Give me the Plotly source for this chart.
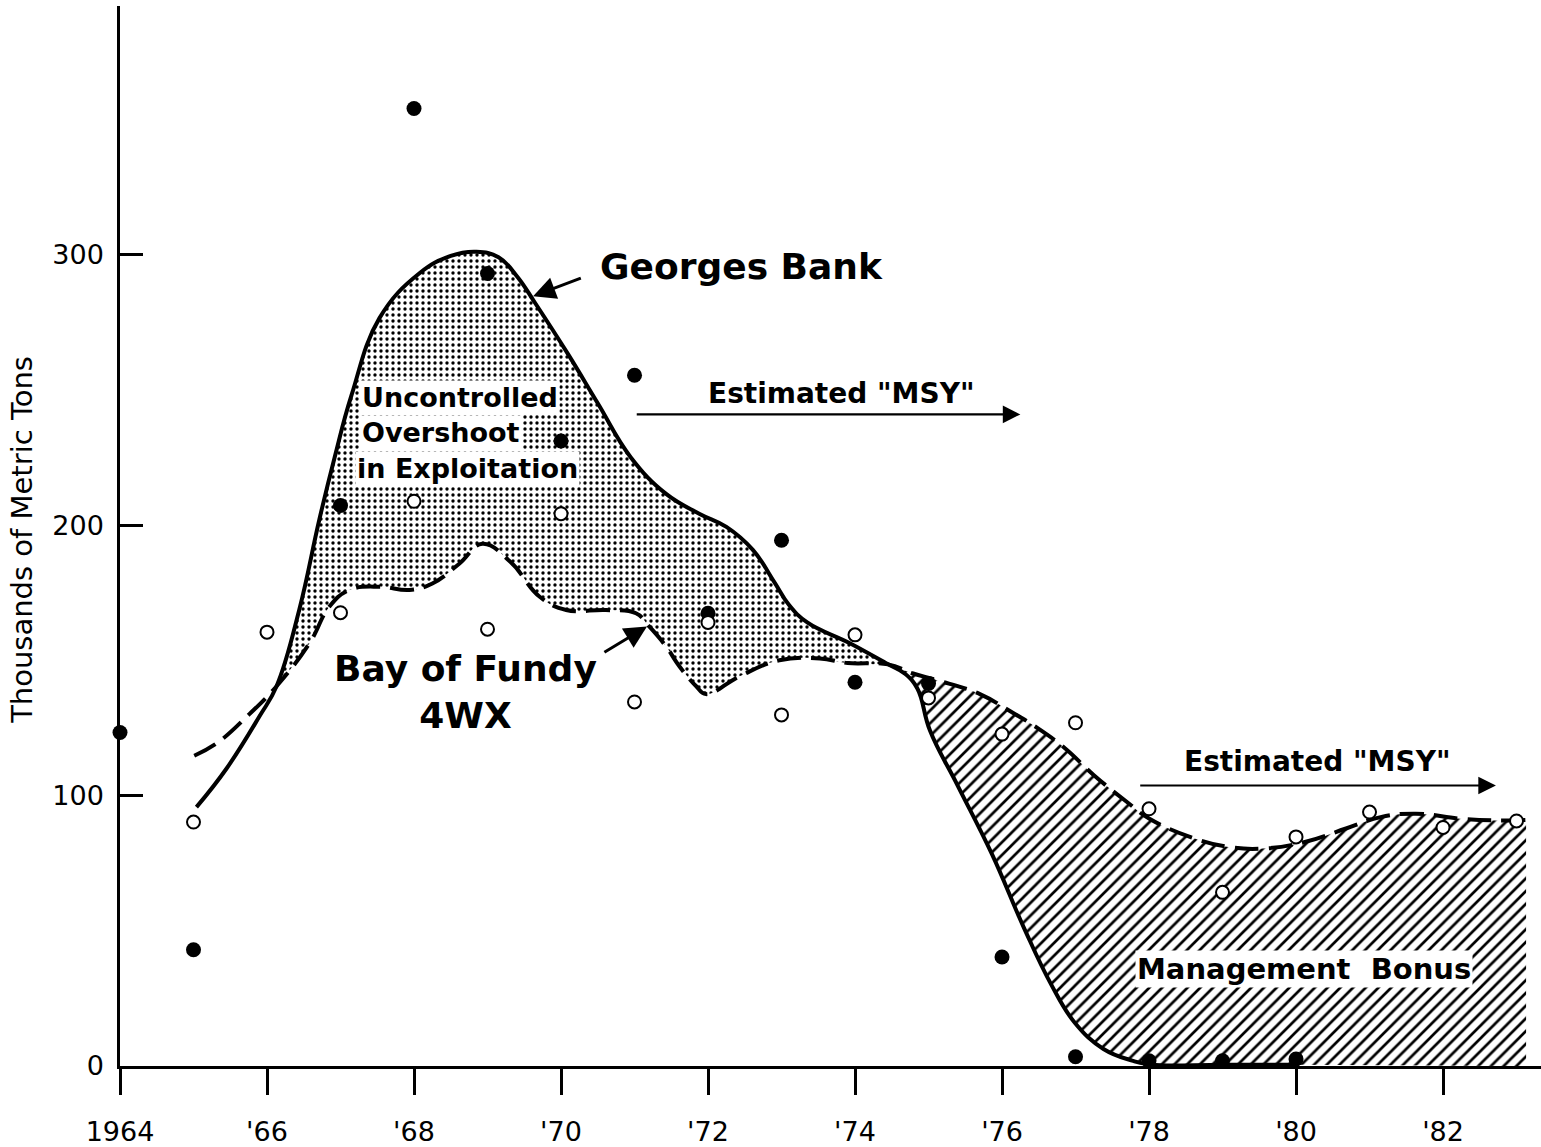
import plotly.graph_objects as go

# ---- Annual catches (thousand metric tons) ----
gb_years = [1964, 1965, 1966, 1967, 1968, 1969, 1970, 1971, 1972,
            1973, 1974, 1975, 1976, 1977, 1978, 1979, 1980]
gb_catch = [123.3, 43.0, None, 207.2, 354.0, 293.0, 231.1, 255.4, 167.4,
            194.4, 141.9, 141.4, 40.3, 3.4, 1.9, 1.9, 2.6]

bf_years = [1965, 1966, 1967, 1968, 1969, 1970, 1971, 1972, 1973, 1974,
            1975, 1976, 1977, 1978, 1979, 1980, 1981, 1982, 1983]
bf_catch = [90.2, 160.4, 167.6, 208.8, 161.5, 204.2, 134.6, 164.0, 129.8, 159.4,
            136.1, 122.7, 126.9, 95.1, 64.2, 84.7, 93.9, 88.2, 90.6]

# ---- Smoothed trends ----
gb_trend_x = [1965.04, 1965.45, 1965.90, 1966.13, 1966.44, 1966.71, 1966.92, 1967.15,
              1967.53, 1968.07, 1968.50, 1968.85, 1969.15, 1969.40, 1969.65, 1970.10,
              1970.50, 1970.95, 1971.43, 1971.88, 1972.25, 1972.61, 1972.90, 1973.10,
              1973.35, 1973.93, 1974.45, 1974.68, 1974.85, 1975.02, 1975.40, 1975.86,
              1976.30, 1976.67, 1976.99, 1977.38, 1977.77, 1978.03, 1979.00, 1980.00]
gb_trend_y = [95.7, 110.0, 129.4, 140.4, 168.8, 201.8, 225.0, 248.0,
              276.5, 293.0, 299.5, 301.0, 299.0, 292.0, 282.0, 263.0,
              245.0, 225.0, 211.5, 204.2, 199.3, 190.8, 179.0, 170.5,
              164.0, 156.3, 148.5, 145.0, 139.5, 124.0, 103.5, 78.5,
              51.0, 30.1, 16.0, 6.3, 2.0, 0.5, 0.5, 0.5]

bf_trend_x = [1965.01, 1965.33, 1965.76, 1966.13, 1966.58, 1966.85, 1967.12, 1967.53,
              1967.94, 1968.25, 1968.62, 1968.93, 1969.31, 1969.71, 1970.07, 1970.61,
              1971.02, 1971.20, 1971.43, 1971.61, 1971.84, 1971.97, 1972.43, 1972.97,
              1973.52, 1973.90, 1974.45, 1974.78, 1975.12, 1975.70, 1976.09, 1976.48,
              1976.86, 1977.25, 1977.70, 1978.00, 1978.61, 1979.08, 1979.55, 1980.12,
              1980.68, 1981.15, 1981.63, 1982.24, 1982.71, 1983.13]
bf_trend_y = [114.7, 119.6, 130.1, 140.4, 156.4, 169.9, 176.0, 177.2,
              176.0, 178.4, 185.8, 193.1, 186.4, 173.5, 168.6, 168.6,
              167.4, 162.5, 155.1, 147.8, 140.4, 137.5, 144.1, 150.0,
              150.7, 149.0, 148.5, 145.2, 142.6, 137.5, 131.5, 125.0,
              117.4, 107.5, 97.6, 91.5, 84.2, 81.0, 80.4, 82.8,
              87.8, 92.0, 93.3, 91.4, 90.8, 91.0]

# Where the two trends cross
overshoot_start = 1966.13
overshoot_end = 1974.45

# ---- Axis ticks ----
tick_years = [1964, 1966, 1968, 1970, 1972, 1974, 1976, 1978, 1980, 1982]
tick_labels = ["1964", "'66", "'68", "'70", "'72", "'74", "'76", "'78", "'80", "'82"]
y_ticks = [0, 100, 200, 300]

SMOOTH = 1.2


def span(xs, ys, lo, hi):
    pts = [(x, y) for x, y in zip(xs, ys) if lo - 1e-9 <= x <= hi + 1e-9]
    return [p[0] for p in pts], [p[1] for p in pts]


def edge():
    return dict(width=0, shape="spline", smoothing=SMOOTH)


FONT = "DejaVu Sans"
fig = go.Figure()

# Overshoot area (stippled): between Bay of Fundy trend (below) and Georges Bank trend (above)
lo_x, lo_y = span(bf_trend_x, bf_trend_y, overshoot_start, overshoot_end)
hi_x, hi_y = span(gb_trend_x, gb_trend_y, overshoot_start, overshoot_end)
fig.add_trace(go.Scatter(x=lo_x, y=lo_y, mode="lines", line=edge(), hoverinfo="skip"))
fig.add_trace(go.Scatter(x=hi_x, y=hi_y, mode="lines", line=edge(),
                         fill="tonexty", fillcolor="white",
                         fillpattern=dict(shape=".", size=6, solidity=0.25,
                                          fgcolor="black", bgcolor="white", fillmode="replace"),
                         hoverinfo="skip"))

# Management bonus area (hatched): Georges Bank trend below, Bay of Fundy trend above
gb_lo_x, gb_lo_y = span(gb_trend_x, gb_trend_y, overshoot_end, 1990)
gb_lo_x = gb_lo_x + [bf_trend_x[-1]]
gb_lo_y = gb_lo_y + [0]
bf_hi_x, bf_hi_y = span(bf_trend_x, bf_trend_y, overshoot_end, 1990)
fig.add_trace(go.Scatter(x=gb_lo_x, y=gb_lo_y, mode="lines", line=edge(), hoverinfo="skip"))
fig.add_trace(go.Scatter(x=bf_hi_x, y=bf_hi_y, mode="lines", line=edge(),
                         fill="tonexty", fillcolor="white",
                         fillpattern=dict(shape="/", size=9, solidity=0.3,
                                          fgcolor="black", bgcolor="white", fillmode="replace"),
                         hoverinfo="skip"))

# Trend lines
fig.add_trace(go.Scatter(x=gb_trend_x, y=gb_trend_y, mode="lines", name="Georges Bank",
                         line=dict(color="black", width=4, shape="spline", smoothing=SMOOTH)))
fig.add_trace(go.Scatter(x=bf_trend_x, y=bf_trend_y, mode="lines", name="Bay of Fundy 4WX",
                         line=dict(color="black", width=4, shape="spline", smoothing=SMOOTH,
                                   dash="24px,10px")))

# Annual catch points
fig.add_trace(go.Scatter(x=gb_years, y=gb_catch, mode="markers", cliponaxis=False,
                         marker=dict(symbol="circle", size=15, color="black"),
                         name="Georges Bank catch"))
fig.add_trace(go.Scatter(x=bf_years, y=bf_catch, mode="markers", cliponaxis=False,
                         marker=dict(symbol="circle", size=13, color="white",
                                     line=dict(color="black", width=2)),
                         name="Bay of Fundy catch"))

ann = []


def label(text, x, y, size, bold=True, xanchor="left", bg=None):
    ann.append(dict(text=text, x=x, y=y, xref="x", yref="y", xanchor=xanchor,
                    yanchor="middle", showarrow=False,
                    font=dict(family=FONT, size=size, color="black",
                              weight="bold" if bold else "normal"),
                    bgcolor=bg, borderpad=1))


def arrow(x0, y0, x1, y1, width, size):
    ann.append(dict(text="", x=x1, y=y1, ax=x0, ay=y0, xref="x", yref="y",
                    axref="x", ayref="y", showarrow=True, arrowhead=2,
                    arrowsize=size, arrowwidth=width, arrowcolor="black"))


label("Georges Bank", 1970.50, 295.6, 36)
arrow(1970.29, 291.5, 1969.62, 284.6, 3, 1.5)

label("Uncontrolled", 1967.26, 247.1, 27, bg="white")
label("Overshoot", 1967.26, 234.2, 27, bg="white")
label("in Exploitation", 1967.20, 221.0, 27, bg="white")

label('Estimated "MSY"', 1971.97, 248.5, 28)
arrow(1971.01, 240.9, 1976.25, 240.9, 2.2, 1.6)

label("Bay of Fundy<br>4WX", 1968.70, 138.1, 36, xanchor="center")
arrow(1970.57, 152.6, 1971.17, 162.5, 3, 1.5)

label('Estimated "MSY"', 1978.45, 112.5, 28)
arrow(1977.86, 103.7, 1982.72, 103.7, 2.2, 1.6)

label("Management  Bonus", 1977.81, 36.0, 29, bg="white")

# Y axis title
ann.append(dict(text="Thousands of Metric Tons", x=-0.069, y=194.5, xref="paper", yref="y",
                textangle=-90, showarrow=False, xanchor="center", yanchor="middle",
                font=dict(family=FONT, size=29, color="black")))

fig.update_layout(
    width=1541, height=1147,
    margin=dict(l=120, r=0, t=6, b=75),
    paper_bgcolor="white", plot_bgcolor="white",
    showlegend=False,
    font=dict(family=FONT, color="black"),
    annotations=ann,
)
fig.update_xaxes(range=[1964, 1983.333], tickvals=tick_years, ticktext=tick_labels,
                 ticks="outside", ticklen=26, tickwidth=3, tickcolor="black",
                 showline=True, linewidth=3, linecolor="black",
                 showgrid=False, zeroline=False,
                 tickfont=dict(family=FONT, size=27, color="black"),
                 ticklabelstandoff=14)
fig.update_yaxes(range=[0, 391.9], tickvals=y_ticks,
                 ticks="inside", ticklen=23, tickwidth=2.5, tickcolor="black",
                 showline=True, linewidth=2.5, linecolor="black",
                 showgrid=False, zeroline=False,
                 tickfont=dict(family=FONT, size=27, color="black"),
                 ticklabelstandoff=8)

fig.write_html("out.html")
